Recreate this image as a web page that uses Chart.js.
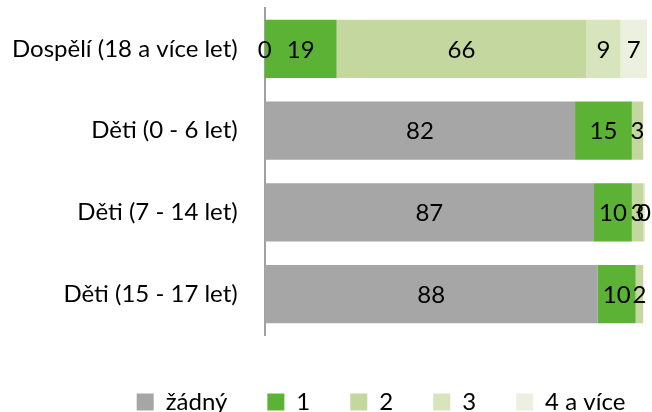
<!DOCTYPE html>
<html>
<head>
<meta charset="utf-8">
<script src="https://cdn.jsdelivr.net/npm/chart.js@4.4.1/dist/chart.umd.min.js"></script>
<style>
  html, body { margin: 0; padding: 0; background: #fff; }
  #wrap { position: relative; width: 652px; height: 412px; }
</style>
</head>
<body>
<div id="wrap"><canvas id="chart"></canvas></div>
<script>
/* ── DATA ───────────────────────────────────────────────────────── */
const categories = ['Dospělí (18 a více let)', 'Děti (0 - 6 let)', 'Děti (7 - 14 let)', 'Děti (15 - 17 let)'];
const seriesNames = ['žádný', '1', '2', '3', '4 a více'];
const valZadny = [0, 82, 87, 88];
const valJedna = [19, 15, 10, 10];
const valDva   = [66, 3, 3, 2];
const valTri   = [9, null, 0.4, null];
const valCtyri = [7, null, null, null];
const colors = ['#a6a6a6', '#5cb234', '#c4d79f', '#d8e4bc', '#ebf1de'];

const FONT = 'Lato, "Open Sans", sans-serif';

/* ── VALUE LABELS INSIDE SEGMENTS ───────────────────────────────── */
const segmentLabels = {
  id: 'segmentLabels',
  afterDatasetsDraw(chart) {
    const ctx = chart.ctx;
    ctx.save();
    ctx.font = `24px ${FONT}`;
    ctx.fillStyle = '#000';
    ctx.textAlign = 'center';
    ctx.textBaseline = 'middle';
    chart.data.datasets.forEach((ds, di) => {
      chart.getDatasetMeta(di).data.forEach((bar, i) => {
        const v = ds.data[i];
        if (v === null || v === undefined) return;
        ctx.fillText(String(Math.round(v)), (bar.x + bar.base) / 2, bar.y + 1);
      });
    });
    ctx.restore();
  }
};

/* ── NUDGE LEGEND (Excel places it off-centre) ──────────────────── */
const legendShift = {
  id: 'legendShift',
  afterLayout(chart) {
    const lg = chart.legend;
    if (!lg) return;
    lg.left += 65; lg.right += 65;
    lg.top += 15; lg.bottom += 15;
  }
};

const seriesData = [valZadny, valJedna, valDva, valTri, valCtyri];

new Chart(document.getElementById('chart'), {
  type: 'bar',
  data: {
    labels: categories,
    datasets: seriesData.map((d, i) => ({
      label: seriesNames[i],
      data: d,
      backgroundColor: colors[i],
      borderWidth: 0,
      categoryPercentage: 0.71,
      barPercentage: 1,
    }))
  },
  options: {
    indexAxis: 'y',
    responsive: true,
    maintainAspectRatio: false,
    animation: false,
    layout: { padding: { top: 8, right: 5, bottom: 3, left: -15 } },
    plugins: {
      legend: {
        position: 'bottom',
        labels: {
          color: '#000',
          font: { family: FONT, size: 24 },
          boxWidth: 17,
          boxHeight: 17,
          padding: 40,
        }
      },
      tooltip: { enabled: false }
    },
    scales: {
      x: {
        stacked: true,
        min: 0,
        max: 101,
        display: false,
      },
      y: {
        stacked: true,
        grid: { display: false, drawTicks: false },
        border: { display: true, color: '#a0a0a0', width: 2 },
        ticks: { color: '#000', font: { family: FONT, size: 24 }, padding: 27 },
        // tick padding would otherwise also be reserved above/below the axis
        afterFit(scale) { scale.paddingTop = 0; scale.paddingBottom = 0; },
      }
    }
  },
  plugins: [segmentLabels, legendShift]
});
</script>
</body>
</html>
